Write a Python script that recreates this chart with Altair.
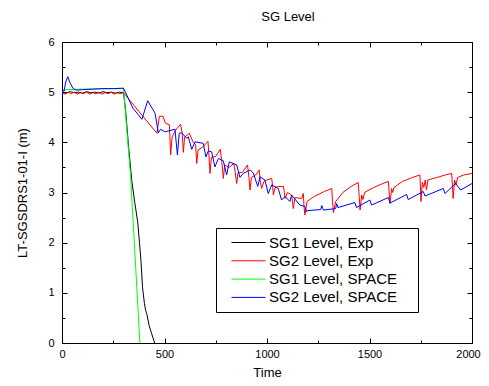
import altair as alt
import pandas as pd

series_names = ["SG1 Level, Exp", "SG2 Level, Exp", "SG1 Level, SPACE", "SG2 Level, SPACE"]
series_colors = ["#000000", "#ff0000", "#00ff00", "#0000ff"]

x_major = [0, 500, 1000, 1500, 2000]
x_minor = [250, 750, 1250, 1750]
y_major = [0, 1, 2, 3, 4, 5, 6]
y_minor = [0.5, 1.5, 2.5, 3.5, 4.5, 5.5]

# (time, level) pairs
sg1_exp = [(0, 5.0), (20, 4.98), (40, 5.01), (60, 4.99), (80, 5.0), (100, 4.98), (120, 5.01),
           (140, 4.99), (160, 5.0), (180, 4.98), (200, 5.01), (220, 4.99), (240, 5.0), (260, 4.98),
           (280, 5.0), (300, 4.99), (310, 4.65), (325, 3.9), (340, 3.25), (355, 2.8), (369, 2.42),
           (378, 2.0), (385, 1.65), (393, 1.1), (402, 0.79), (408, 0.65), (413, 0.59), (425, 0.35),
           (437, 0.19), (452, 0.0)]

sg2_exp = [(0, 4.98), (15, 4.96), (30, 5.0), (45, 4.97), (60, 5.0), (75, 4.96), (90, 4.99),
           (105, 4.97), (120, 5.0), (135, 4.96), (150, 4.99), (165, 4.97), (180, 5.0), (195, 4.96),
           (210, 4.99), (225, 4.97), (240, 5.0), (255, 4.96), (270, 4.99), (285, 4.97), (300, 4.99),
           (463, 4.18), (475, 4.52), (492, 4.52), (505, 4.38), (524, 4.35), (530, 3.75), (537, 4.1),
           (550, 4.22), (578, 4.36), (586, 4.2), (592, 3.8), (598, 4.1), (621, 4.18), (640, 4.0),
           (652, 3.95), (657, 3.58), (664, 3.85), (685, 3.9), (712, 4.02), (716, 3.8), (722, 3.38),
           (729, 3.7), (750, 3.72), (772, 3.86), (780, 3.6), (787, 3.28), (794, 3.55), (815, 3.5),
           (838, 3.58), (845, 3.4), (852, 3.18), (859, 3.4), (880, 3.4), (905, 3.55), (912, 3.3),
           (917, 3.05), (924, 3.3), (945, 3.35), (962, 3.45), (968, 3.2), (974, 3.08), (985, 3.22),
           (998, 3.25), (1023, 3.28), (1028, 3.1), (1031, 2.95), (1040, 3.1), (1055, 3.12),
           (1080, 3.12), (1085, 3.0), (1088, 2.88), (1100, 3.0), (1120, 2.95), (1125, 2.8),
           (1128, 2.68), (1137, 2.9), (1169, 2.88), (1177, 2.98), (1181, 2.7), (1185, 2.55),
           (1195, 2.82), (1230, 2.92), (1280, 3.02), (1316, 3.08), (1320, 2.8), (1324, 2.6),
           (1335, 2.82), (1370, 3.0), (1410, 3.12), (1445, 3.2), (1450, 2.9), (1454, 2.65),
           (1462, 2.95), (1468, 2.86), (1476, 3.0), (1520, 3.1), (1560, 3.17), (1592, 3.22),
           (1597, 2.95), (1600, 2.78), (1608, 3.08), (1613, 3.0), (1620, 3.1), (1660, 3.22),
           (1710, 3.3), (1746, 3.35), (1749, 3.05), (1751, 2.82), (1758, 3.2), (1765, 3.1),
           (1772, 3.25), (1778, 3.05), (1785, 3.25), (1830, 3.3), (1870, 3.35), (1901, 3.38),
           (1905, 3.1), (1908, 2.88), (1915, 3.25), (1922, 3.15), (1930, 3.3), (1960, 3.35),
           (2000, 3.38)]

sg1_space = [(0, 5.0), (20, 5.05), (100, 5.06), (200, 5.07), (300, 5.07), (335, 3.3), (380, 0.0)]

sg2_space = [(0, 4.9), (4, 5.05), (10, 5.02), (18, 5.2), (28, 5.31), (40, 5.18), (55, 5.07),
             (70, 5.04), (100, 5.05), (150, 5.06), (200, 5.07), (250, 5.07), (300, 5.08),
             (346, 4.68), (390, 4.46), (418, 4.83), (454, 4.58), (470, 4.19), (481, 4.26),
             (502, 4.21), (551, 4.26), (563, 3.75), (572, 4.18), (584, 4.19), (608, 4.08),
             (616, 4.11), (633, 3.86), (649, 4.01), (689, 3.98), (702, 3.71), (714, 3.83),
             (730, 3.81), (746, 3.51), (763, 3.68), (787, 3.63), (803, 3.35), (816, 3.61),
             (852, 3.55), (868, 3.3), (884, 3.38), (917, 3.45), (933, 3.39), (955, 3.12),
             (966, 3.31), (990, 3.25), (1006, 2.98), (1023, 3.15), (1055, 3.08), (1071, 2.85),
             (1088, 2.92), (1112, 2.82), (1120, 2.95), (1140, 2.85), (1160, 2.75), (1185, 2.72),
             (1193, 2.62), (1200, 2.64), (1262, 2.66), (1267, 2.74), (1275, 2.65), (1335, 2.68),
             (1340, 2.78), (1346, 2.70), (1429, 2.80), (1437, 2.70), (1502, 2.85), (1510, 2.75),
             (1592, 2.90), (1600, 2.79), (1681, 2.96), (1689, 2.86), (1762, 3.02), (1771, 2.93),
             (1860, 3.08), (1868, 2.98), (1920, 3.18), (1945, 3.05), (2000, 3.18)]

rows = []
for name, pts in zip(series_names, [sg1_exp, sg2_exp, sg1_space, sg2_space]):
    for i, (t, v) in enumerate(pts):
        rows.append({"time": t, "level": v, "series": name, "idx": i})
df = pd.DataFrame(rows)

frame = pd.DataFrame({"time": [0, 2000], "level": [0, 6]})

xs = alt.Scale(domain=[0, 2000], nice=False, zero=False)
ys = alt.Scale(domain=[0, 6], nice=False, zero=False)

FONT = "Liberation Sans"

lines = alt.Chart(df).mark_line(strokeWidth=1, clip=True).encode(
    x=alt.X("time:Q", scale=xs, axis=alt.Axis(
        orient="bottom", values=x_major, tickSize=5, offset=-5, domain=False, format="d",
        labelPadding=5, title="Time", titlePadding=7, labelFlush=False,
        labelOffset={"condition": {"test": "datum.value == 2000", "value": -4}, "value": 0})),
    y=alt.Y("level:Q", scale=ys, axis=alt.Axis(
        orient="left", values=y_major, tickSize=5, offset=-5, domain=False, format="d",
        labelPadding=8, title="LT-SGSDRS1-01-I (m)", titlePadding=18, labelFlush=False)),
    color=alt.Color("series:N", scale=alt.Scale(domain=series_names, range=series_colors),
                    legend=alt.Legend(
                        title=" ", titleOrient="right", titlePadding=15,
                        orient="none", legendX=154, legendY=186,
                        direction="vertical", strokeColor="black", fillColor="white",
                        padding=6, symbolType="stroke", symbolSize=1156,
                        symbolStrokeWidth=1, symbolOffset=9, clipHeight=17,
                        labelFont=FONT, labelFontSize=15, labelColor="black",
                        rowPadding=1.3, labelOffset=3)),
    order=alt.Order("idx:Q"),
)

minor = alt.Chart(frame).mark_point(opacity=0).encode(
    x=alt.X("time:Q", scale=xs, axis=alt.Axis(
        orient="bottom", values=x_minor, tickSize=3, offset=-3, domain=False,
        labels=False, title=None)),
    y=alt.Y("level:Q", scale=ys, axis=alt.Axis(
        orient="left", values=y_minor, tickSize=3, offset=-3, domain=False,
        labels=False, title=None)),
)

top_major = alt.Chart(frame).mark_point(opacity=0).encode(
    x=alt.X("time:Q", scale=xs, axis=alt.Axis(
        orient="top", values=x_major, tickSize=5, offset=-5, domain=False,
        labels=False, title=None)),
    y=alt.Y("level:Q", scale=ys, axis=alt.Axis(
        orient="right", values=y_major, tickSize=5, offset=-5, domain=False,
        labels=False, title=None)),
)

top_minor = alt.Chart(frame).mark_point(opacity=0).encode(
    x=alt.X("time:Q", scale=xs, axis=alt.Axis(
        orient="top", values=x_minor, tickSize=3, offset=-3, domain=False,
        labels=False, title=None)),
    y=alt.Y("level:Q", scale=ys, axis=alt.Axis(
        orient="right", values=y_minor, tickSize=3, offset=-3, domain=False,
        labels=False, title=None)),
)

chart = alt.layer(lines, minor, top_major, top_minor).resolve_axis(
    x="independent", y="independent"
).properties(
    width=410, height=301,
    title=alt.Title("SG Level", anchor="middle", dx=21, offset=2, baseline="alphabetic",
                    font=FONT, fontSize=13, fontWeight="normal", color="black"),
    autosize=alt.AutoSizeParams(type="none"),
    padding={"left": 54, "top": 34, "right": 9, "bottom": 35},
).configure_view(
    stroke="black", strokeWidth=1
).configure_axis(
    labelFont=FONT, titleFont=FONT, labelFontSize=11, titleFontSize=13,
    labelColor="black", titleColor="black", tickColor="black", tickWidth=1,
    titleFontWeight="normal", grid=False
)

chart.save("out.html", embed_options={"renderer": "svg", "actions": False})
